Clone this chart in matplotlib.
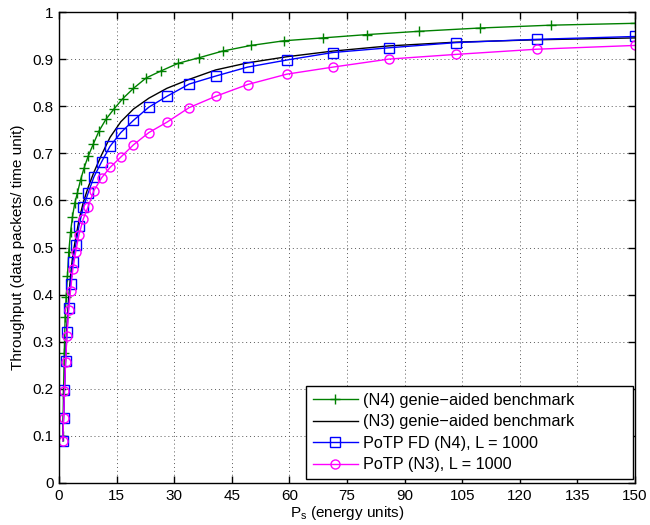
import numpy as np
import matplotlib
matplotlib.use('Agg')
import matplotlib.pyplot as plt

plt.rcParams['font.family'] = ['Liberation Sans', 'DejaVu Sans']

# (N4) genie-aided benchmark
ps_n4 = [1.0, 1.17, 1.37, 1.6, 1.87, 2.2, 2.55, 3.0, 3.5, 4.1, 4.8, 5.6, 6.5, 7.6,
         8.9, 10.4, 12.2, 14.3, 16.6, 19.4, 22.7, 26.6, 31.0, 36.5, 42.6, 50.0,
         58.7, 68.7, 80.1, 93.7, 109.6, 128.0, 150.0]
thr_n4 = [0.10, 0.19, 0.275, 0.353, 0.395, 0.44, 0.491, 0.532, 0.565, 0.594, 0.616,
          0.643, 0.668, 0.694, 0.719, 0.747, 0.772, 0.794, 0.816, 0.838, 0.860,
          0.875, 0.891, 0.903, 0.917, 0.929, 0.939, 0.945, 0.952, 0.959, 0.966,
          0.972, 0.976]

# power grid shared by the N3 benchmark and the two PoTP curves
ps = [0.98, 1.18, 1.42, 1.72, 2.07, 2.5, 3.0, 3.6, 4.35, 5.2, 6.3, 7.6, 9.1, 11.1,
      13.3, 16.1, 19.4, 23.4, 28.1, 33.9, 40.8, 49.1, 59.3, 71.3, 85.9, 103.4,
      124.4, 150.0]
thr_n3 = [0.09, 0.145, 0.205, 0.27, 0.335, 0.39, 0.44, 0.485, 0.52, 0.558, 0.595,
          0.628, 0.66, 0.697, 0.734, 0.767, 0.794, 0.817, 0.838, 0.857, 0.877,
          0.892, 0.905, 0.917, 0.928, 0.936, 0.941, 0.945]
thr_fd_n4 = [0.09, 0.137, 0.197, 0.258, 0.321, 0.372, 0.422, 0.469, 0.505, 0.546,
             0.585, 0.616, 0.650, 0.682, 0.715, 0.744, 0.770, 0.798, 0.821, 0.847,
             0.864, 0.883, 0.898, 0.914, 0.924, 0.935, 0.942, 0.948]
thr_potp_n3 = [0.09, 0.137, 0.196, 0.256, 0.312, 0.367, 0.408, 0.454, 0.491, 0.527,
               0.560, 0.587, 0.621, 0.648, 0.670, 0.692, 0.718, 0.744, 0.766, 0.797,
               0.821, 0.846, 0.868, 0.883, 0.900, 0.910, 0.921, 0.929]

fig = plt.figure(figsize=(6.5, 5.25), dpi=100)
ax = fig.add_axes([59 / 650, 42 / 525, 576 / 650, 471 / 525])

ax.plot(ps_n4, thr_n4, color='#008000', lw=1.0, marker='+', ms=7, mew=1.0,
        label='(N4) genie\u2212aided benchmark')
ax.plot(ps, thr_n3, color='black', lw=1.0,
        label='(N3) genie\u2212aided benchmark')
ax.plot(ps, thr_fd_n4, color='#0000ff', lw=1.0, marker='s', ms=6.5, mew=1.0,
        mfc='none', label='PoTP FD (N4), L = 1000')
ax.plot(ps, thr_potp_n3, color='#ff00ff', lw=1.0, marker='o', ms=6.5, mew=1.0,
        mfc='none', label='PoTP (N3), L = 1000')

ax.set_xlim(0, 150)
ax.set_ylim(0, 1)
xt = list(range(0, 151, 15))
yt = [i / 10 for i in range(11)]
ax.set_xticks(xt)
ax.set_xticklabels([str(v) for v in xt])
ax.set_yticks(yt)
ax.set_yticklabels(['%g' % v for v in yt])
ax.tick_params(direction='in', top=True, right=True, length=5, width=1,
               labelsize=11, pad=4)
for s in ax.spines.values():
    s.set_linewidth(1.0)
ax.grid(True, linestyle=(0, (1, 3)), color='0.35', linewidth=0.7)

ax.set_xlabel(r'P$_\mathregular{s}$ (energy units)', fontsize=11, labelpad=1)
ax.set_ylabel('Throughput (data packets/ time unit)', fontsize=11, labelpad=5)

# wide box anchored in the lower right corner, entries left-aligned inside
leg = ax.legend(loc='lower left', bbox_to_anchor=(0.429, 0.0085, 0.568, 0.19),
                mode='expand', borderaxespad=0, fontsize=11.7, fancybox=False,
                edgecolor='black', framealpha=1, handlelength=2.8,
                handletextpad=0.3, labelspacing=0.4, borderpad=0.4)
leg.get_frame().set_linewidth(1.0)

fig.savefig('out.png', dpi=100)
